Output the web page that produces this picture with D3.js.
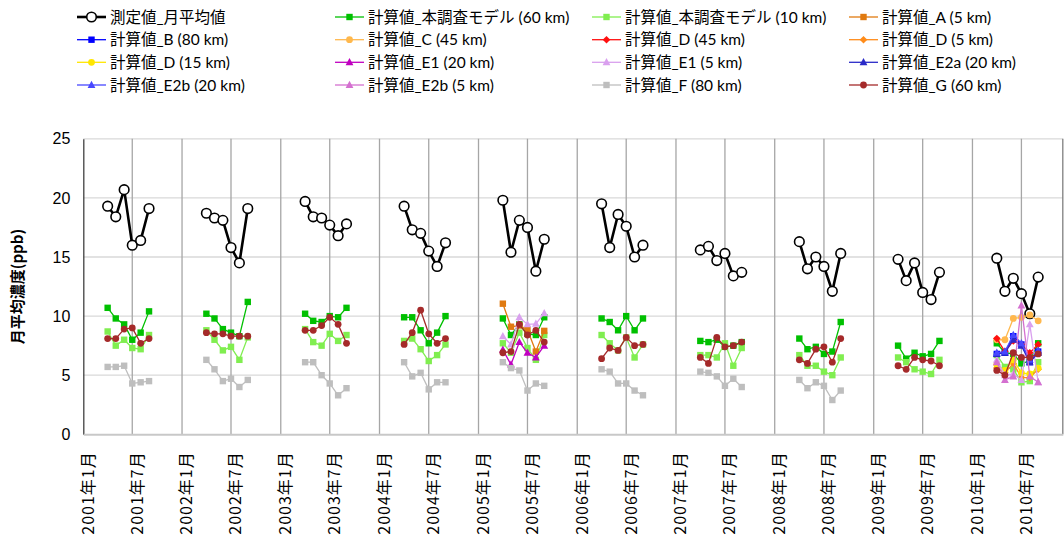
<!DOCTYPE html>
<html><head><meta charset="utf-8">
<script src="https://cdn.jsdelivr.net/npm/d3@7"></script>
<style>
body{margin:0;background:#fff;}
svg{display:block;}
</style></head>
<body>
<svg id="chart" width="1064" height="540"></svg>
<script>
// ---------- DATA ----------
const years = [2001,2002,2003,2004,2005,2006,2007,2008,2009,2010];
const months = [4,5,6,7,8,9];
const yTicks = [0,5,10,15,20,25];

// values per year (Apr..Sep)
const measured = {
 2001:[19.3,18.4,20.7,16.0,16.4,19.1], 2002:[18.7,18.3,18.1,15.8,14.5,19.1],
 2003:[19.7,18.4,18.3,17.7,16.8,17.8], 2004:[19.3,17.3,17.0,15.5,14.2,16.2],
 2005:[19.8,15.4,18.1,17.5,13.8,16.5], 2006:[19.5,15.8,18.6,17.6,15.0,16.0],
 2007:[15.6,15.9,14.7,15.3,13.4,13.7], 2008:[16.3,14.0,15.0,14.2,12.1,15.3],
 2009:[14.8,13.0,14.5,12.0,11.4,13.7], 2010:[14.9,12.1,13.2,11.9,10.2,13.3]};
const model60 = {
 2001:[10.7,9.8,9.3,8.0,8.6,10.4], 2002:[10.2,9.8,8.9,8.6,8.3,11.2],
 2003:[10.2,9.6,9.5,10.0,9.9,10.7], 2004:[9.9,9.9,8.8,7.7,8.6,10.0],
 2005:[9.8,8.4,9.3,8.5,8.4,9.9], 2006:[9.8,9.5,8.8,10.0,8.8,9.8],
 2007:[7.9,7.8,8.0,7.4,7.5,7.8], 2008:[8.1,7.2,7.4,6.8,7.0,9.5],
 2009:[7.5,6.4,6.9,6.6,6.8,7.9], 2010:[7.7,6.9,6.8,6.0,6.2,7.7]};
const model10 = {
 2001:[8.7,7.5,8.0,7.3,7.2,8.4], 2002:[8.8,8.0,7.1,7.4,6.3,8.2],
 2003:[8.9,7.8,7.5,8.5,7.9,8.4], 2004:[7.9,8.1,7.2,6.2,6.7,7.6],
 2005:[7.7,6.9,8.6,7.3,6.3,8.4], 2006:[8.4,7.7,7.1,8.2,6.5,7.6],
 2007:[6.7,6.7,6.5,7.7,5.8,7.3], 2008:[6.7,5.8,5.8,5.3,5.0,6.5],
 2009:[6.5,6.1,5.5,5.3,5.1,6.3], 2010:[6.7,5.7,5.5,4.4,4.5,6.1]};
const calcA5 = {2005:[11.05,9.1,9.2,8.85,7.0,8.75]};
const calcB80 = {2010:[6.8,6.9,8.3,7.6,6.1,7.0]};
const calcC45 = {2010:[8.0,8.0,9.8,9.9,10.1,9.6]};
const calcD45 = {2010:[8.1,7.0,7.9,7.6,6.9,7.6]};
const calcD5 = {2010:[5.6,5.2,6.0,4.8,4.8,5.5]};
const calcD15 = {2010:[5.9,5.4,6.3,5.2,5.1,5.6]};
const calcE1_20 = {2005:[7.15,5.9,7.8,6.9,6.5,7.5]};
const calcE1_5 = {2005:[8.3,7.6,9.9,9.3,9.35,10.25], 2010:[6.3,5.0,5.1,4.6,9.3,4.4]};
const calcE2a20 = {2010:[6.8,6.9,8.0,7.5,6.1,6.9]};
const calcE2b20 = {2010:[6.9,7.0,8.4,7.7,6.3,7.1]};
const calcE2b5 = {2010:[6.1,4.6,4.9,10.9,4.9,4.4]};
const calcF80 = {
 2001:[5.7,5.7,5.8,4.3,4.4,4.5], 2002:[6.3,5.5,4.5,4.7,4.0,4.6],
 2003:[6.1,6.1,5.0,4.3,3.3,3.9], 2004:[6.1,4.9,5.2,3.8,4.4,4.4],
 2005:[6.1,5.6,5.4,3.7,4.3,4.1], 2006:[5.5,5.3,4.3,4.3,3.7,3.3],
 2007:[5.3,5.2,4.9,4.1,4.7,4.0], 2008:[4.6,3.9,4.4,4.1,2.9,3.7]};
const calcG60 = {
 2001:[8.1,8.1,8.9,9.0,7.7,8.1], 2002:[8.6,8.5,8.5,8.3,8.3,8.3],
 2003:[8.8,8.8,9.2,9.9,9.3,7.7], 2004:[7.6,8.6,10.5,8.5,7.7,8.1],
 2005:[6.9,7.0,9.3,8.4,8.8,7.8], 2006:[6.4,7.3,7.1,8.2,7.5,7.6],
 2007:[6.5,6.0,8.2,7.4,7.5,7.8], 2008:[6.3,6.0,7.2,7.4,6.1,8.1],
 2009:[5.8,5.5,6.5,6.3,6.2,5.8], 2010:[5.4,5.0,6.9,6.5,6.5,6.8]};

const seriesNames = ["測定値_月平均値","計算値_本調査モデル (60 km)","計算値_本調査モデル (10 km)","計算値_A (5 km)",
 "計算値_B (80 km)","計算値_C (45 km)","計算値_D (45 km)","計算値_D (5 km)",
 "計算値_D (15 km)","計算値_E1 (20 km)","計算値_E1 (5 km)","計算値_E2a (20 km)",
 "計算値_E2b (20 km)","計算値_E2b (5 km)","計算値_F (80 km)","計算値_G (60 km)"];
const seriesData = [measured,model60,model10,calcA5,calcB80,calcC45,calcD45,calcD5,calcD15,calcE1_20,calcE1_5,calcE2a20,calcE2b20,calcE2b5,calcF80,calcG60];

// ---------- STYLE ----------
const colors = ["#000000","#00C000","#80EE50","#E07A10","#0000FF","#FFB84D","#FF1010","#FF8C1A","#FFE600","#C000C0","#D9A0EE","#2A2AC8","#4848FF","#D470D0","#BEBEBE","#A52A2A"];
const shapes = ["open","square","square","square","square","circle","diamond","diamond","circle","triangle","triangle","triangle","triangle","triangle","square","circle"];

const svg = d3.select("#chart");
const L = 83.3, R = 1062.8, T = 138.8, B = 434.3;
const x = d3.scaleUtc().domain([new Date(Date.UTC(2001,0,1)), new Date(Date.UTC(2010,11,1))]).range([L,R]);
const y = d3.scaleLinear().domain([0,25]).range([B,T]);
const font = "Lato, 'Noto Sans CJK JP', sans-serif";

// horizontal grid
svg.append("g").selectAll("line").data(yTicks.slice(1)).join("line")
  .attr("x1",L).attr("x2",R).attr("y1",d=>y(d)).attr("y2",d=>y(d))
  .attr("stroke","#D9D9D9").attr("stroke-width",1.3);

// vertical grid at 6-month ticks
const xTicks = d3.utcMonth.every(6).range(new Date(Date.UTC(2001,0,1)), new Date(Date.UTC(2010,11,2)));
svg.append("g").selectAll("line").data(xTicks.slice(1)).join("line")
  .attr("x1",d=>x(d)).attr("x2",d=>x(d)).attr("y1",T).attr("y2",B)
  .attr("stroke","#A6A6A6").attr("stroke-width",1.3);
// right border
svg.append("line").attr("x1",R).attr("x2",R).attr("y1",T).attr("y2",B).attr("stroke","#7F7F7F").attr("stroke-width",1.3);

// axes
const yAxis = svg.append("g").attr("transform",`translate(${L},0)`)
  .call(d3.axisLeft(y).tickValues(yTicks).tickSize(0).tickPadding(13));
yAxis.select(".domain").attr("stroke","#404040").attr("stroke-width",1.3);
yAxis.selectAll("text").attr("font-family","'Liberation Sans', Arial, sans-serif").attr("font-size",16).attr("fill","#000");

const xAxis = svg.append("g").attr("transform",`translate(0,${B})`)
  .call(d3.axisBottom(x).tickValues(xTicks).tickSize(0).tickFormat(d=>`${d.getUTCFullYear()}年${d.getUTCMonth()+1}月`));
xAxis.select(".domain").attr("stroke","#C8C8C8").attr("stroke-width",2);
xAxis.selectAll("text").attr("font-family","'Noto Sans CJK JP', sans-serif").attr("font-size",16).attr("fill","#000")
  .attr("letter-spacing","1px")
  .attr("text-anchor","end").attr("transform","rotate(-90)").attr("x",-17).attr("y",0).attr("dy","0.62em");

// y title
svg.append("text").attr("transform",`translate(23,${(T+B)/2}) rotate(-90)`).attr("text-anchor","middle")
  .attr("font-family","'Noto Sans CJK JP', sans-serif").attr("font-weight","bold").attr("font-size",15).text("月平均濃度(ppb)");

// markers
function drawMarker(g, shape, color, cx, cy){
  if(shape==="open"){
    g.append("circle").attr("cx",cx).attr("cy",cy).attr("r",4.8).attr("fill","#fff").attr("stroke",color).attr("stroke-width",1.6);
  } else if(shape==="square"){
    g.append("rect").attr("x",cx-3.2).attr("y",cy-3.2).attr("width",6.4).attr("height",6.4).attr("fill",color);
  } else if(shape==="circle"){
    g.append("circle").attr("cx",cx).attr("cy",cy).attr("r",3.4).attr("fill",color);
  } else if(shape==="diamond"){
    g.append("path").attr("d",`M${cx},${cy-3.8}L${cx+3.8},${cy}L${cx},${cy+3.8}L${cx-3.8},${cy}Z`).attr("fill",color);
  } else if(shape==="triangle"){
    g.append("path").attr("d",`M${cx},${cy-4.2}L${cx+3.9},${cy+3}L${cx-3.9},${cy+3}Z`).attr("fill",color);
  }
}

const line = d3.line().x(d=>x(d.date)).y(d=>y(d.v));
const plot = svg.append("g");
seriesData.forEach((sd,i)=>{
  const g = plot.append("g");
  years.forEach(yr=>{
    const vals = sd[yr];
    if(!vals) return;
    const pts = vals.map((v,j)=>({date:new Date(Date.UTC(yr,months[j]-1,1)), v}));
    g.append("path").datum(pts).attr("d",line).attr("fill","none").attr("stroke",colors[i])
      .attr("stroke-width", i===0 ? 2.6 : 1.3).attr("stroke-linejoin","round");
    pts.forEach(p=>drawMarker(g, shapes[i], colors[i], x(p.date), y(p.v)));
  });
});

// legend
const colX = [77, 335, 592, 849];
const rowY = [17, 39.7, 62.3, 85];
const leg = svg.append("g");
seriesNames.forEach((nm,i)=>{
  const cx = colX[i%4], cy = rowY[Math.floor(i/4)];
  const g = leg.append("g");
  g.append("line").attr("x1",cx).attr("x2",cx+29).attr("y1",cy).attr("y2",cy).attr("stroke",colors[i]).attr("stroke-width", i===0?2.6:1.3);
  drawMarker(g, shapes[i], colors[i], cx+14.5, cy);
  g.append("text").attr("x",cx+33).attr("y",cy).attr("dy","0.36em").attr("font-family",font).attr("font-size",15.5).attr("fill","#000").text(nm);
});
</script>
</body></html>
